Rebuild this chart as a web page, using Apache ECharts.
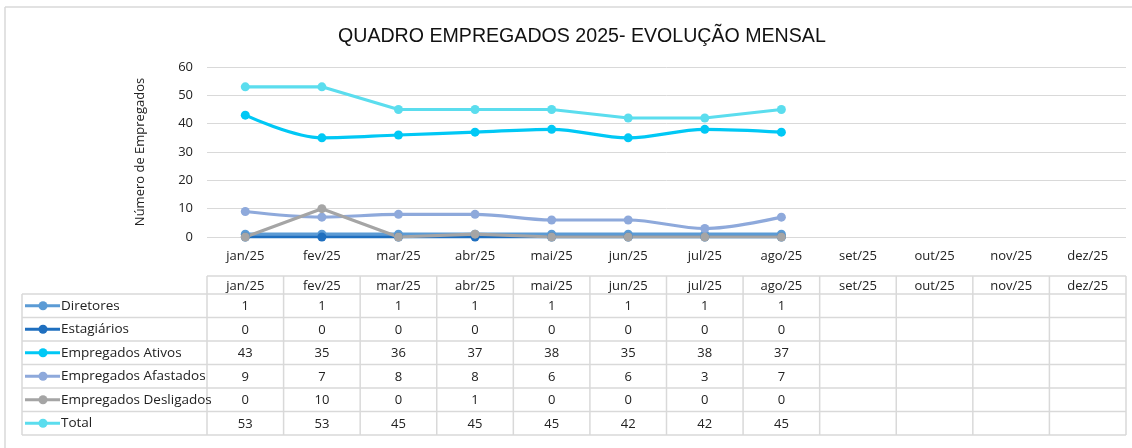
<!DOCTYPE html>
<html>
<head>
<meta charset="utf-8">
<script src="https://cdn.jsdelivr.net/npm/echarts@6/dist/echarts.min.js"></script>
<style>
  html, body { margin: 0; padding: 0; background: #fff; }
  #main { width: 1132px; height: 448px; }
</style>
</head>
<body>
<div id="main"></div>
<script>
// dados do quadro
var months = ["jan/25", "fev/25", "mar/25", "abr/25", "mai/25", "jun/25",
  "jul/25", "ago/25", "set/25", "out/25", "nov/25", "dez/25"];
var diretores = [1, 1, 1, 1, 1, 1, 1, 1, null, null, null, null];
var estagiarios = [0, 0, 0, 0, 0, 0, 0, 0, null, null, null, null];
var ativos = [43, 35, 36, 37, 38, 35, 38, 37, null, null, null, null];
var afastados = [9, 7, 8, 8, 6, 6, 3, 7, null, null, null, null];
var desligados = [0, 10, 0, 1, 0, 0, 0, 0, null, null, null, null];
var total = [53, 53, 45, 45, 45, 42, 42, 45, null, null, null, null];
var yTicks = [0, 10, 20, 30, 40, 50, 60];

var rows = [
  { name: "Diretores", data: diretores, color: "#5B9BD5", smooth: false },
  { name: "Estagiários", data: estagiarios, color: "#1F6FBF", smooth: false },
  { name: "Empregados Ativos", data: ativos, color: "#00C8F5", smooth: 0.35 },
  { name: "Empregados Afastados", data: afastados, color: "#8EA9DB", smooth: 0.35 },
  { name: "Empregados Desligados", data: desligados, color: "#A5A5A5", smooth: false },
  { name: "Total", data: total, color: "#5BDDEE", smooth: false }
];

var font = "Open Sans, Liberation Sans, sans-serif";
var gridColor = "#D9D9D9";
var textColor = "#222";

var myChart = echarts.init(document.getElementById("main"));

var option = {
  backgroundColor: "#fff",
  animation: false,
  title: {
    text: "QUADRO EMPREGADOS 2025- EVOLUÇÃO MENSAL",
    left: 333,
    top: 22,
    textStyle: { fontFamily: "Liberation Sans, sans-serif", fontSize: 19.6, fontWeight: "normal", color: "#111" }
  },
  grid: { left: 207, right: 6, top: 67, bottom: 211 },
  xAxis: {
    type: "category",
    data: months,
    boundaryGap: true,
    axisLine: { show: false },
    axisTick: { show: false },
    axisLabel: { margin: 13, fontSize: 13, color: textColor, fontFamily: font }
  },
  yAxis: {
    type: "value",
    min: yTicks[0],
    max: yTicks[yTicks.length - 1],
    interval: 10,
    name: "Número de Empregados",
    nameLocation: "middle",
    nameGap: 60,
    nameTextStyle: { fontSize: 13, color: textColor, fontFamily: font },
    axisLabel: { fontSize: 13, color: textColor, fontFamily: font, margin: 14 },
    splitLine: { lineStyle: { color: gridColor, width: 1 } }
  },
  series: rows.map(function (r) {
    return {
      name: r.name,
      type: "line",
      data: r.data,
      smooth: r.smooth,
      symbol: "circle",
      symbolSize: 9,
      lineStyle: { color: r.color, width: 3.2 },
      itemStyle: { color: r.color }
    };
  })
};

myChart.setOption(option);

// tabela de dados abaixo do gráfico, alinhada com as categorias
var cx = months.map(function (m) {
  return myChart.convertToPixel({ xAxisIndex: 0 }, m);
});
var colW = cx[1] - cx[0];
var tLeft = 22;
var tFirst = cx[0] - colW / 2;
var tRight = cx[cx.length - 1] + colW / 2;
var headTop = 276;
var headH = 18;
var rowH = 23.5;
var tBottom = headTop + headH + rowH * rows.length;
var lineStyle = { stroke: gridColor, lineWidth: 1.5 };
var txtFont = "13px " + font;
var g = [];

// moldura do gráfico
g.push({ type: "line", shape: { x1: 5, y1: 7, x2: 1132, y2: 7 }, style: { stroke: "#D9D9D9", lineWidth: 1.5 } });
g.push({ type: "line", shape: { x1: 5, y1: 7, x2: 5, y2: 448 }, style: { stroke: "#D9D9D9", lineWidth: 1.5 } });

// linhas horizontais
g.push({ type: "line", shape: { x1: tFirst, y1: headTop, x2: tRight, y2: headTop }, style: lineStyle });
for (var i = 0; i <= rows.length; i++) {
  var y = headTop + headH + rowH * i;
  g.push({ type: "line", shape: { x1: tLeft, y1: y, x2: tRight, y2: y }, style: lineStyle });
}
// linhas verticais
g.push({ type: "line", shape: { x1: tLeft, y1: headTop + headH, x2: tLeft, y2: tBottom }, style: lineStyle });
for (var j = 0; j <= months.length; j++) {
  var x = tFirst + colW * j;
  g.push({ type: "line", shape: { x1: x, y1: headTop, x2: x, y2: tBottom }, style: lineStyle });
}
// cabeçalho
months.forEach(function (m, k) {
  g.push({
    type: "text",
    style: { text: m, x: cx[k], y: headTop + headH / 2 + 1, align: "center", verticalAlign: "middle", font: txtFont, fill: textColor }
  });
});
// linhas de dados com legenda
rows.forEach(function (r, ri) {
  var yc = headTop + headH + rowH * ri + rowH / 2;
  g.push({ type: "line", shape: { x1: 25, y1: yc, x2: 60, y2: yc }, style: { stroke: r.color, lineWidth: 3.2 }, z: 10 });
  g.push({ type: "circle", shape: { cx: 43, cy: yc, r: 4.5 }, style: { fill: r.color }, z: 10 });
  g.push({
    type: "text", z: 10,
    style: { text: r.name, x: 61, y: yc, align: "left", verticalAlign: "middle", font: "13.5px " + font, fill: textColor }
  });
  r.data.forEach(function (v, k) {
    if (v === null) return;
    g.push({
      type: "text",
      style: { text: String(v), x: cx[k], y: yc + 1, align: "center", verticalAlign: "middle", font: txtFont, fill: textColor }
    });
  });
});

myChart.setOption({ graphic: { elements: g } });
</script>
</body>
</html>
